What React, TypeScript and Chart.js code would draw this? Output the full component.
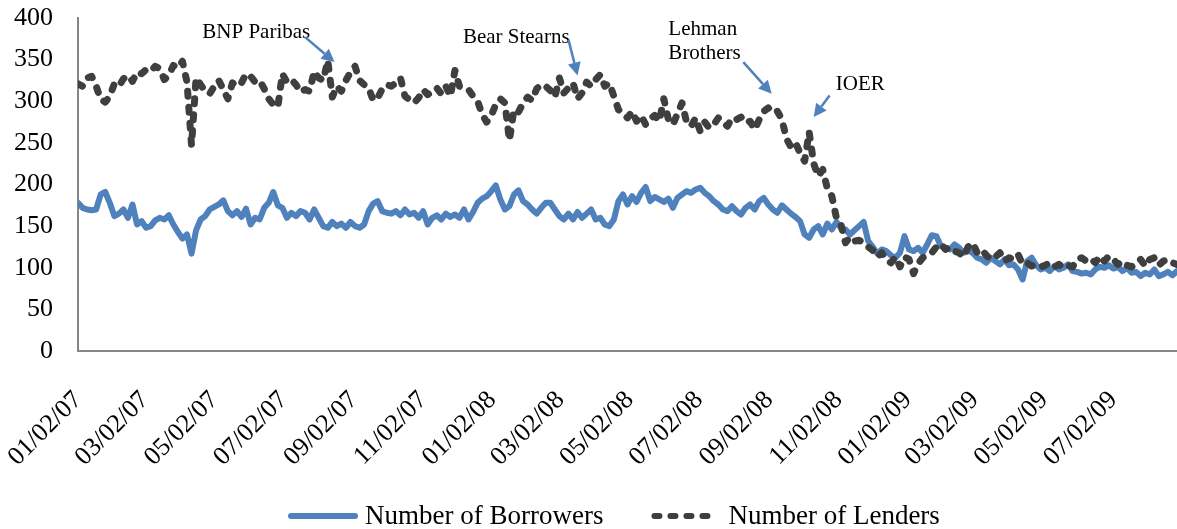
import React, { useEffect, useRef } from "react";
import { Chart, registerables } from "chart.js";

Chart.register(...registerables);

// ---- data ----
const START_DATE = [2007, 1, 2]; // first observation (y, m, d)
const STEP_DAYS = 4; // one reading every 4 calendar days

const TICK_LABELS = [
  "01/02/07", "03/02/07", "05/02/07", "07/02/07", "09/02/07", "11/02/07",
  "01/02/08", "03/02/08", "05/02/08", "07/02/08", "09/02/08", "11/02/08",
  "01/02/09", "03/02/09", "05/02/09", "07/02/09",
];

const Y_MIN = 0;
const Y_MAX = 400;
const Y_STEP = 50;

const SERIES_LABELS = ["Number of Borrowers", "Number of Lenders"];

const borrowers = [
  178, 172, 170, 169, 170, 188, 191, 178, 162, 165,
  170, 160, 176, 152, 156, 148, 150, 157, 160, 158,
  163, 152, 143, 135, 140, 117, 145, 158, 162, 170,
  173, 176, 181, 168, 163,
  168, 161, 171, 152, 160,
  158, 172, 178, 191, 175, 172, 160, 166, 162, 168,
  166, 158, 170, 160, 150, 148, 155, 150, 153, 148,
  155, 150, 148, 152, 168, 177, 180, 168, 166,
  165, 168, 163, 170, 164, 166, 160, 168, 152, 160, 163,
  158, 165, 161, 164, 160, 170, 158, 167, 178, 183,
  186, 192, 199, 182, 170, 174, 188, 193, 180, 176,
  170, 165, 172, 178,
  178, 170, 162, 158, 165, 158, 167, 160, 165, 170,
  158, 160, 152, 150, 158, 180, 188, 176, 186, 179,
  190, 197, 180, 185, 182, 179, 183, 172, 184, 188, 192, 190, 194, 196,
  190, 186, 180, 176, 170, 168, 174, 168, 164, 172,
  176, 170, 180, 184, 176, 170, 166, 175, 170, 165,
  161, 156, 140, 136, 146, 150, 140, 153, 146, 155, 148, 146, 140, 145,
  150, 155, 132, 125, 117, 122, 120, 115, 112, 118,
  138, 122, 120, 124, 118, 128, 139, 138, 126, 124,
  122, 128, 124, 118, 121, 118, 112, 110, 106, 112, 108, 104, 110, 103,
  104, 98, 86, 108, 112, 103, 98, 100, 96, 102,
  98, 100, 104, 96, 95, 93, 94, 92, 98, 101,
  100, 103, 99, 101, 96, 100, 94, 95, 90, 94,
  92, 98, 90, 92, 95, 91, 96,
];

const lenders = [
  321, 318, 328, 330, 318, 302, 299, 306, 321, 318,
  327, 331, 324, 335, 333, 338, 336, 342, 339, 326,
  331, 343, 340, 348, 323, 247, 328, 320, 312, 309,
  318, 325, 314, 303, 322,
  318, 322, 333, 330, 323, 325, 315, 303, 296, 293,
  333, 323, 326, 320, 311, 314, 312, 336, 328, 325,
  349, 305, 318, 312, 325, 335, 342, 325, 320, 316, 301, 304, 315, 320,
  318, 322, 328, 306, 302, 298, 304, 314, 308, 312,
  316, 309, 318, 306, 337, 318, 316, 314, 306, 300,
  284, 275, 283, 296, 303, 298, 253, 290, 287, 298,
  305, 301, 315, 320, 318,
  313, 305, 328, 310, 316, 322, 303, 310, 323, 318,
  326, 332, 318, 322, 306, 290, 285, 280, 288, 276,
  283, 272, 279, 283, 276, 303, 278, 272, 285, 298, 275, 270, 280, 264,
  275, 268, 272, 280, 275, 270, 280, 278, 281, 274,
  276, 266, 278, 288, 292, 286, 288, 278, 255, 245,
  250, 238, 228, 263, 225, 210, 218, 195, 186, 160, 152, 130, 137, 132,
  133, 130, 125, 121, 113, 118, 110, 106, 113, 101,
  113, 110, 93, 105, 112, 115, 118, 125, 129, 122,
  125, 120, 118, 113, 125, 130, 118, 122, 115, 110, 113, 118, 108, 112,
  110, 116, 104, 106, 102, 104, 101, 103, 106, 101,
  104, 100, 103, 101, 110, 112, 108, 111, 106, 114,
  108, 114, 110, 104, 108, 103, 101, 106, 110, 102,
  110, 112, 103, 108, 110, 106, 104,
];

// annotation texts, anchored in data units (days since start, value)
const ANNOTATIONS = [
  { lines: ["BNP Paribas"], align: "center", textDay: 157, textVal: 376, from: [200, 377], to: [226, 347] },
  { lines: ["Bear Stearns"], align: "center", textDay: 386, textVal: 370, from: [432, 374], to: [440, 331] },
  { lines: ["Lehman", "Brothers"], align: "left", textDay: 520, textVal: 380, from: [586, 347], to: [611, 309] },
  { lines: ["IOER"], align: "center", textDay: 689, textVal: 313, from: [662, 307], to: [648, 281] },
];

// ---- styles ----
const FONT = '"Liberation Serif", "Times New Roman", serif';
const BLUE = "#4F81BD";
const DARK = "#3F3F3F";
const AXIS = "#868686";

const startMs = Date.UTC(START_DATE[0], START_DATE[1] - 1, START_DATE[2]);
const dayOf = (label: string) => {
  const [m, d, y] = label.split("/").map(Number);
  return Math.round((Date.UTC(2000 + y, m - 1, d) - startMs) / 86400000);
};
const TICK_DAYS = TICK_LABELS.map(dayOf);
const LAST_DAY = (borrowers.length - 1) * STEP_DAYS;

const annotationPlugin = {
  id: "eventAnnotations",
  afterDatasetsDraw(chart: any) {
    const { ctx, scales } = chart;
    const xs = scales.x;
    const ys = scales.y;
    ctx.save();
    ctx.font = `21px ${FONT}`;
    ctx.fillStyle = "#000";
    ctx.textBaseline = "alphabetic";
    for (const a of ANNOTATIONS) {
      const tx = xs.getPixelForValue(a.textDay);
      const ty = ys.getPixelForValue(a.textVal);
      ctx.textAlign = a.align;
      a.lines.forEach((line, k) => {
        ctx.fillText(line, tx, ty + k * 24.5);
      });
      const x1 = xs.getPixelForValue(a.from[0]);
      const y1 = ys.getPixelForValue(a.from[1]);
      const x2 = xs.getPixelForValue(a.to[0]);
      const y2 = ys.getPixelForValue(a.to[1]);
      const ang = Math.atan2(y2 - y1, x2 - x1);
      const headLen = 13;
      const headHalf = 6.5;
      const bx = x2 - headLen * Math.cos(ang);
      const by = y2 - headLen * Math.sin(ang);
      ctx.strokeStyle = BLUE;
      ctx.fillStyle = BLUE;
      ctx.lineWidth = 2.5;
      ctx.beginPath();
      ctx.moveTo(x1, y1);
      ctx.lineTo(bx, by);
      ctx.stroke();
      ctx.beginPath();
      ctx.moveTo(x2, y2);
      ctx.lineTo(bx + headHalf * Math.sin(ang), by - headHalf * Math.cos(ang));
      ctx.lineTo(bx - headHalf * Math.sin(ang), by + headHalf * Math.cos(ang));
      ctx.closePath();
      ctx.fill();
      ctx.fillStyle = "#000";
    }
    ctx.restore();
  },
};

const legendPlugin = {
  id: "bottomLegend",
  afterDraw(chart: any) {
    const { ctx } = chart;
    const y = 516;
    let x = 288;
    ctx.save();
    ctx.font = `27px ${FONT}`;
    ctx.textBaseline = "middle";
    ctx.textAlign = "left";
    chart.data.datasets.forEach((ds: any) => {
      ctx.strokeStyle = ds.borderColor;
      ctx.lineWidth = Math.min(ds.borderWidth, 6);
      ctx.lineCap = "round";
      ctx.setLineDash(ds.borderDash || []);
      ctx.beginPath();
      ctx.moveTo(x + 3, y);
      ctx.lineTo(x + 67, y);
      ctx.stroke();
      ctx.setLineDash([]);
      ctx.fillStyle = "#000";
      const tx = x + 77;
      ctx.fillText(ds.label, tx, y + 1);
      x = tx + ctx.measureText(ds.label).width + 48;
    });
    ctx.restore();
  },
};

export default function App() {
  const ref = useRef<HTMLCanvasElement>(null);
  useEffect(() => {
    const canvas = ref.current;
    if (!canvas) return;
    const chart = new Chart(canvas, {
      type: "line",
      data: {
        datasets: [
          {
            label: SERIES_LABELS[0],
            data: borrowers.map((v, i) => ({ x: i * STEP_DAYS, y: v })),
            borderColor: BLUE,
            backgroundColor: BLUE,
            borderWidth: 6,
            pointRadius: 0,
            tension: 0,
            borderJoinStyle: "round",
            borderCapStyle: "round",
            order: 1,
          },
          {
            label: SERIES_LABELS[1],
            data: lenders.map((v, i) => ({ x: i * STEP_DAYS, y: v })),
            borderColor: DARK,
            backgroundColor: DARK,
            borderWidth: 7,
            borderDash: [5, 11],
            pointRadius: 0,
            tension: 0,
            borderJoinStyle: "round",
            borderCapStyle: "round",
            order: 0,
          },
        ],
      },
      options: {
        responsive: false,
        animation: false,
        events: [],
        layout: { padding: { top: 18, left: 0, right: 0, bottom: 0 } },
        plugins: {
          legend: { display: false },
          tooltip: { enabled: false },
        },
        scales: {
          x: {
            type: "linear",
            min: 0,
            max: LAST_DAY,
            afterBuildTicks: (s: any) => {
              s.ticks = TICK_DAYS.map((v) => ({ value: v }));
            },
            afterFit: (s: any) => {
              s.height = 178;
              s.paddingLeft = 0;
              s.paddingRight = 0;
            },
            grid: { display: false, drawTicks: false },
            border: { display: true, color: AXIS, width: 2 },
            ticks: {
              autoSkip: false,
              maxRotation: 45,
              minRotation: 45,
              padding: 34,
              color: "#000",
              font: { family: FONT, size: 26 },
              callback: (v: any) => {
                const k = TICK_DAYS.indexOf(Number(v));
                return k >= 0 ? TICK_LABELS[k] : "";
              },
            },
          },
          y: {
            type: "linear",
            min: Y_MIN,
            max: Y_MAX,
            afterFit: (s: any) => {
              s.width = 78;
              s.paddingTop = 0;
              s.paddingBottom = 0;
            },
            grid: { display: false, drawTicks: false },
            border: { display: true, color: AXIS, width: 2 },
            ticks: {
              stepSize: Y_STEP,
              padding: 25,
              color: "#000",
              font: { family: FONT, size: 26 },
            },
          },
        },
      },
      plugins: [annotationPlugin, legendPlugin],
    } as any);
    return () => chart.destroy();
  }, []);
  return (
    <canvas
      ref={ref}
      width={1177}
      height={529}
      style={{ position: "fixed", left: 0, top: 0, width: 1177, height: 529 }}
    />
  );
}
